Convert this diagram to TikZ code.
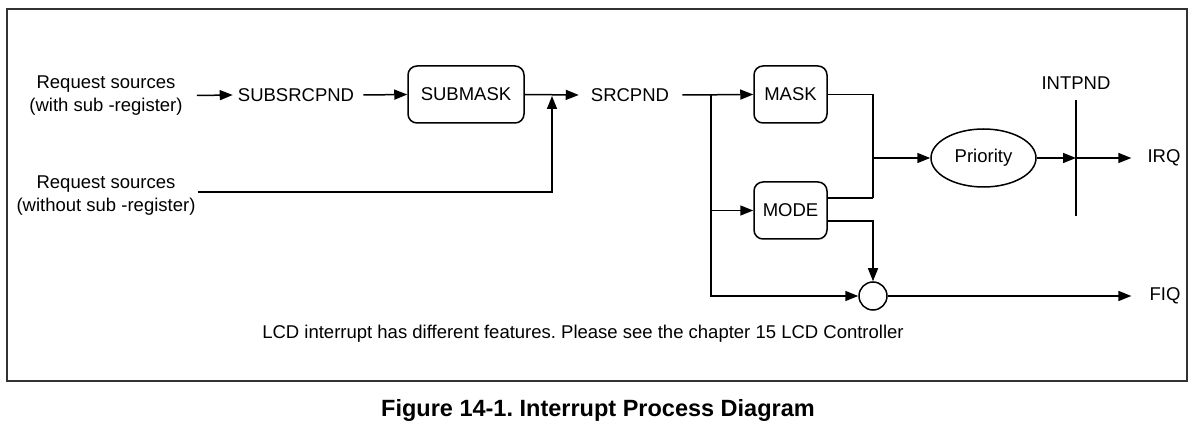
\documentclass[tikz,border=0pt]{standalone}
\usepackage{fontspec}
\setmainfont{Liberation Sans}
\usetikzlibrary{arrows.meta,shapes.geometric}
\frenchspacing
\begin{document}
\begin{tikzpicture}[x=1pt,y=-1pt,
  txt/.style={inner sep=0pt,font=\fontsize{18.5}{23}\selectfont,align=center},
  box/.style={draw,line width=1.5pt,rounded corners=9pt,inner sep=0pt,font=\fontsize{18.5}{23}\selectfont},
  ln/.style={line width=1.5pt},
  arr/.style={line width=1.5pt,-{Triangle[length=13pt,width=10pt]}},
  frame/.style={draw=black!80,line width=2pt}]
\useasboundingbox (0,0) rectangle (1195,427);
\draw[frame] (7,9) rectangle (1187,381);
% nodes
\node[txt] (rs1) at (106,95.5) {Request sources\\(with sub -register)};
\node[txt] (rs2) at (106,195.5) {Request sources\\(without sub -register)};
\node[txt] (subsrc) at (296,95) {SUBSRCPND};
\node[box,minimum width=116pt,minimum height=57pt] (submask) at (466,94.5) {SUBMASK};
\node[txt] (srcpnd) at (630,95) {SRCPND};
\node[box,minimum width=73pt,minimum height=57pt] (mask) at (790.5,94.5) {MASK};
\node[box,minimum width=73pt,minimum height=57pt] (mode) at (790.5,210.5) {MODE};
\node[draw,ellipse,line width=1.5pt,inner sep=0pt,minimum width=105pt,minimum height=58pt,font=\fontsize{18.5}{23}\selectfont] (prio) at (983.5,158) {Priority};
\node[draw,circle,line width=1.5pt,inner sep=0pt,minimum size=28pt] (orc) at (873,296) {};
\node[txt] (intpnd) at (1076,83) {INTPND};
\node[txt] (irq) at (1164,158) {IRQ};
\node[txt] (fiq) at (1165,296) {FIQ};
\node[txt] (note) at (583,334) {LCD interrupt has different features. Please see the chapter 15 LCD Controller};
\node[inner sep=0pt,font=\fontsize{23.5}{28}\selectfont\bfseries] (cap) at (598,410) {Figure 14-1. Interrupt Process Diagram};
% coordinates
\coordinate (j1) at (552,96);
\coordinate (b) at (711,95);
\coordinate (m1) at (873,198);
\coordinate (m2) at (873,158);
\coordinate (ip) at (1076,158);
\coordinate (ipt) at (1076,100);
\coordinate (ipb) at (1076,216);
% connectors
\draw[arr] ([xshift=14pt]rs1.east) -- ([xshift=-5pt]subsrc.west);
\draw[arr] ([xshift=9pt]subsrc.east) -- (submask.west);
\draw[arr] (submask.east) -- ([xshift=-12pt]srcpnd.west);
\draw[arr] ([xshift=2pt,yshift=3.5pt]rs2.east) -| (j1);
\draw[arr] ([xshift=13pt]srcpnd.east) -- (mask.west);
\draw[arr] (b) |- (orc.west);
\draw[arr] (b |- mode.west) -- (mode.west);
\draw[ln] (mask.east) -| (m1);
\draw[ln] ([yshift=12.5pt]mode.east) -- (m1);
\draw[arr] (m2) -- (prio.west);
\draw[arr] ([yshift=-10.5pt]mode.east) -| (orc.north);
\draw[ln] (ipt) -- (ipb);
\draw[arr] (prio.east) -- (ip);
\draw[arr] (ip) -- ([xshift=-16pt]irq.west);
\draw[arr] (orc.east) -- ([xshift=-18pt]fiq.west);
\end{tikzpicture}
\end{document}
